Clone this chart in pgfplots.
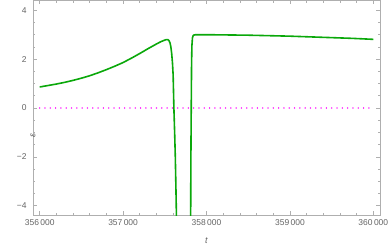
\documentclass[border=0pt]{standalone}
\usepackage{fontspec}
\setmainfont{Liberation Sans}
\usepackage{pgfplots}
\pgfplotsset{compat=1.18}
\definecolor{curvegreen}{RGB}{10,168,10}
\definecolor{framegray}{RGB}{175,175,175}
\definecolor{labelgray}{RGB}{100,100,100}
\definecolor{dotmagenta}{RGB}{255,40,255}
\begin{document}
\begin{tikzpicture}
\begin{axis}[
  scale only axis,
  width=347bp, height=215bp,
  xmin=355920, xmax=360080,
  ymin=-4.4, ymax=4.4,
  scaled x ticks=false,
  xtick={356000,357000,358000,359000,360000},
  xticklabels={356\,000,357\,000,358\,000,359\,000,360\,000},
  minor x tick num=4,
  ytick={-4,-2,0,2,4},
  yticklabels={−4,−2,0,2,4},
  minor y tick num=3,
  tick align=inside,
  xtick pos=both, ytick pos=both,
  xticklabel pos=lower, yticklabel pos=left,
  axis line style={framegray, line width=0.6bp},
  every tick/.style={framegray, line width=0.6bp},
  major tick length=4bp, minor tick length=2.2bp,
  tick label style={font=\fontsize{8.5}{10}\selectfont, text=labelgray},
  xticklabel style={yshift=-1bp},
  yticklabel style={xshift=-3bp},
  xlabel={\textit{t}},
  ylabel={\textit{ε}},
  label style={font=\fontsize{9}{10}\selectfont, text=labelgray},
  xlabel style={at={(axis description cs:0.5,0)}, anchor=center, yshift=-25.5bp},
  ylabel style={at={(axis description cs:0,0.5)}, anchor=center, xshift=-27bp},
  clip=true,
]
\addplot[dotmagenta, line width=1.5bp, line cap=round, dash pattern=on 0.01bp off 5.3bp] coordinates {
  (356000,0) (360000,0)
};
\addplot[curvegreen, line width=1.6bp, line join=round] coordinates {
  (356000,0.86) (356100,0.92) (356200,0.98) (356300,1.05) (356400,1.13)
  (356500,1.22) (356600,1.32) (356700,1.44) (356800,1.57) (356900,1.71)
  (357000,1.86) (357100,2.04) (357200,2.23) (357300,2.43) (357400,2.62)
  (357450,2.71) (357500,2.78) (357520,2.80) (357535,2.80) (357550,2.76)
  (357562,2.67) (357572,2.52) (357582,2.25) (357592,1.85) (357600,1.35)
  (357609,0.0) (357618,-1.0) (357626,-2.0) (357633,-3.2) (357640,-4.5)
  (357650,-6.0)
};
\addplot[curvegreen, line width=1.6bp, line join=round] coordinates {
  (357805,-6.0) (357810,-4.5) (357813,-2.0) (357817,0.0) (357821,1.8)
  (357825,2.55) (357832,2.88) (357842,2.98) (357870,3.0) (358000,3.0)
  (358250,2.99) (358500,2.98) (358750,2.96) (359000,2.94) (359250,2.91)
  (359500,2.88) (359750,2.85) (360000,2.81)
};
\end{axis}
\pgfresetboundingbox
\path[use as bounding box] ([shift={(-33bp,-31.5bp)}]current axis.south west) rectangle ([shift={(10bp,0.5bp)}]current axis.north east);
\end{tikzpicture}
\end{document}
